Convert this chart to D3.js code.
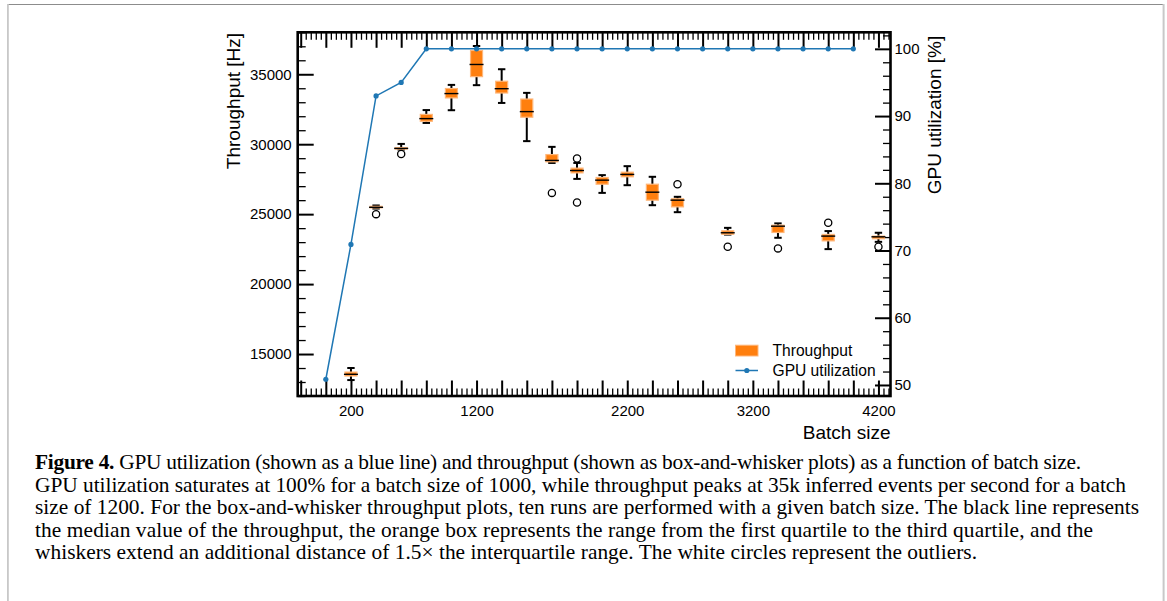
<!DOCTYPE html>
<html>
<head>
<meta charset="utf-8">
<script src="https://cdn.jsdelivr.net/npm/d3@7"></script>
<style>
body { margin: 0; background: #fff; }
svg text { font-family: "Liberation Sans", Arial, Helvetica, sans-serif; fill: #000; }
svg text.caption { font-family: "Liberation Serif", "Times New Roman", serif; }
</style>
</head>
<body>
<div id="viz"></div>
<script>

// x positions are slot indices, one slot per major tick on the batch size axis
var gpuPos  = [0, 1, 2, 3, 4, 5, 6, 7, 8, 9, 10, 11, 12, 13, 14, 15, 16, 17, 18, 19, 20, 21];
var gpuUtil = [50.85, 70.9, 93.0, 95.0, 100, 100, 100, 100, 100, 100, 100, 100, 100, 100, 100, 100, 100, 100, 100, 100, 100, 100];

// box-and-whisker throughput (Hz)
var boxPos  = [1, 2, 3, 4, 5, 6, 7, 8, 9, 10, 11, 12, 13, 14, 16, 18, 20, 22];
var whiskLo = [13140, 25400, 29620, 31520, 32430, 34220, 32950, 30220, 28660, 27520, 26520, 27070, 25640, 25140, 23540, 23310, 22500, 23020];
var q1      = [13430, 25450, 29650, 31640, 33310, 34830, 33660, 31930, 28740, 27950, 27140, 27670, 26000, 25520, 23560, 23690, 23090, 23240];
var median  = [13550, 25490, 29700, 31830, 33620, 35700, 33970, 32330, 28840, 28120, 27430, 27840, 26570, 26000, 23670, 24140, 23430, 23380];
var q3      = [13710, 25560, 29760, 32130, 33980, 36700, 34500, 33230, 29260, 28290, 27620, 28000, 27140, 26100, 23810, 24210, 23550, 23430];
var whiskHi = [14000, 25620, 30020, 32440, 34240, 37020, 35360, 33670, 29810, 28660, 27790, 28430, 27670, 26240, 24020, 24340, 23790, 23670];

var outlierPos = [2, 3, 9, 10, 10, 14, 16, 18, 20, 22];
var outlierVal = [25000, 29300, 26520, 28980, 25830, 27140, 22670, 22550, 24380, 22670];

var xTickPos    = [1, 6, 12, 17, 22];
var xTickLabels = ["200", "1200", "2200", "3200", "4200"];
var yLeftTicks  = [15000, 20000, 25000, 30000, 35000];
var yRightTicks = [50, 60, 70, 80, 90, 100];

var captionLines = [
  " GPU utilization (shown as a blue line) and throughput (shown as box-and-whisker plots) as a function of batch size.",
  "GPU utilization saturates at 100% for a batch size of 1000, while throughput peaks at 35k inferred events per second for a batch",
  "size of 1200. For the box-and-whisker throughput plots, ten runs are performed with a given batch size. The black line represents",
  "the median value of the throughput, the orange box represents the range from the first quartile to the third quartile, and the",
  "whiskers extend an additional distance of 1.5\u00d7 the interquartile range. The white circles represent the outliers."
];

var width = 1167,
    height = 601;

// plot area edges (note: "top" is taken by window.top)
var pL = 297.7, pR = 890.5, pT = 32.3, pB = 396;

var blue = "#1f77b4",
    orange = "#ff7f0e";

var svg = d3.select("#viz")
    .append("svg")
    .attr("width", width)
    .attr("height", height);

// figure frame
svg.append("line").attr("x1", 7).attr("x2", 1164).attr("y1", 4.5).attr("y2", 4.5)
    .attr("stroke", "#8c8c8c").attr("stroke-width", 1);
svg.append("rect").attr("x", 7).attr("y", 4).attr("width", 1.8).attr("height", height - 4).attr("fill", "#c8c8c8");
svg.append("rect").attr("x", 1162.6).attr("y", 4).attr("width", 2).attr("height", height - 4).attr("fill", "#c8c8c8");

var x = d3.scaleLinear().domain([-1.12, 22.48]).range([pL, pR]);
var yL = d3.scaleLinear().domain([12000, 38000]).range([pB, pT]);
var yR = d3.scaleLinear().domain([48.36, 102.46]).range([pB, pT]);

// ****************** Axes ***************************
var xMinor = d3.range(-5, 113).filter(function(i) { return i % 5 != 0; }).map(function(i) { return i / 5; });
var xMajor = d3.range(-1, 23);
var yLMinor = d3.range(12000, 38001, 1000).filter(function(v) { return v % 5000 != 0; });
var yRMinor = d3.range(48, 103, 2).filter(function(v) { return v % 10 != 0 && v > 48.36; });

function styleAxis(g, w) {
  g.select(".domain").remove();
  g.selectAll(".tick line").attr("stroke", "#000").attr("stroke-width", w);
  g.selectAll(".tick text").style("font-size", "15px");
}

// bottom
svg.append("g").attr("transform", "translate(0," + pB + ")")
    .call(d3.axisBottom(x).tickValues(xMinor).tickSize(-7.5).tickFormat(""))
    .call(styleAxis, 1.3);
svg.append("g").attr("transform", "translate(0," + pB + ")")
    .call(d3.axisBottom(x).tickValues(xMajor).tickSize(-15.5).tickFormat(""))
    .call(styleAxis, 2);
svg.append("g").attr("transform", "translate(0," + pB + ")")
    .call(d3.axisBottom(x).tickValues(xTickPos).tickSize(0).tickPadding(9.5)
      .tickFormat(function(d, i) { return xTickLabels[i]; }))
    .call(styleAxis, 0);

// top (mirrored ticks)
svg.append("g").attr("transform", "translate(0," + pT + ")")
    .call(d3.axisTop(x).tickValues(xMinor).tickSize(-7.5).tickFormat(""))
    .call(styleAxis, 1.3);
svg.append("g").attr("transform", "translate(0," + pT + ")")
    .call(d3.axisTop(x).tickValues(xMajor).tickSize(-15.5).tickFormat(""))
    .call(styleAxis, 2);

// left: throughput
svg.append("g").attr("transform", "translate(" + pL + ",0)")
    .call(d3.axisLeft(yL).tickValues(yLMinor).tickSize(-8).tickFormat(""))
    .call(styleAxis, 1.3);
svg.append("g").attr("transform", "translate(" + pL + ",0)")
    .call(d3.axisLeft(yL).tickValues(yLeftTicks).tickSize(-16).tickPadding(6).tickFormat(d3.format("d")))
    .call(styleAxis, 2);

// right: GPU utilization
svg.append("g").attr("transform", "translate(" + pR + ",0)")
    .call(d3.axisRight(yR).tickValues(yRMinor).tickSize(-7.5).tickFormat(""))
    .call(styleAxis, 1.3);
svg.append("g").attr("transform", "translate(" + pR + ",0)")
    .call(d3.axisRight(yR).tickValues(yRightTicks).tickSize(-15.5).tickPadding(4).tickFormat(d3.format("d")))
    .call(styleAxis, 2);

// plot frame
svg.append("rect")
    .attr("x", pL).attr("y", pT)
    .attr("width", pR - pL).attr("height", pB - pT)
    .attr("fill", "none").attr("stroke", "#000").attr("stroke-width", 2.6);

// ****************** Box section ***************************
var boxes = svg.append("g").selectAll("g")
    .data(boxPos)
    .enter().append("g");

boxes.append("line")                                           // whisker
    .attr("x1", function(d) { return x(d); })
    .attr("x2", function(d) { return x(d); })
    .attr("y1", function(d, i) { return yL(whiskLo[i]); })
    .attr("y2", function(d, i) { return yL(whiskHi[i]); })
    .attr("stroke", "#000").attr("stroke-width", 2);

boxes.append("line")                                           // low cap
    .attr("x1", function(d) { return x(d) - 3.7; })
    .attr("x2", function(d) { return x(d) + 3.7; })
    .attr("y1", function(d, i) { return yL(whiskLo[i]); })
    .attr("y2", function(d, i) { return yL(whiskLo[i]); })
    .attr("stroke", "#000").attr("stroke-width", 2);

boxes.append("line")                                           // high cap
    .attr("x1", function(d) { return x(d) - 3.7; })
    .attr("x2", function(d) { return x(d) + 3.7; })
    .attr("y1", function(d, i) { return yL(whiskHi[i]); })
    .attr("y2", function(d, i) { return yL(whiskHi[i]); })
    .attr("stroke", "#000").attr("stroke-width", 2);

boxes.append("rect")
    .attr("x", function(d) { return x(d) - 6; })
    .attr("width", 12)
    .attr("y", function(d, i) { return yL(q3[i]); })
    .attr("height", function(d, i) { return Math.max(yL(q1[i]) - yL(q3[i]), 1); })
    .attr("fill", orange)
    .attr("stroke", "#ffb77a").attr("stroke-width", 1.2);

boxes.append("line")                                           // median
    .attr("x1", function(d) { return x(d) - 7; })
    .attr("x2", function(d) { return x(d) + 7; })
    .attr("y1", function(d, i) { return yL(median[i]); })
    .attr("y2", function(d, i) { return yL(median[i]); })
    .attr("stroke", "#000").attr("stroke-width", 1.4);

svg.append("g").selectAll("circle")
    .data(outlierPos)
    .enter().append("circle")
    .attr("cx", function(d) { return x(d); })
    .attr("cy", function(d, i) { return yL(outlierVal[i]); })
    .attr("r", 3.6)
    .attr("fill", "#fff")
    .attr("stroke", "#000").attr("stroke-width", 1.3);

// ****************** GPU line ***************************
var line = d3.line()
    .x(function(d, i) { return x(gpuPos[i]); })
    .y(function(d) { return yR(d); });

svg.append("path")
    .datum(gpuUtil)
    .attr("d", line)
    .attr("fill", "none")
    .attr("stroke", blue).attr("stroke-width", 1.5);

svg.append("g").selectAll("circle")
    .data(gpuUtil)
    .enter().append("circle")
    .attr("cx", function(d, i) { return x(gpuPos[i]); })
    .attr("cy", function(d) { return yR(d); })
    .attr("r", 2.6)
    .attr("fill", blue);

// ****************** Labels ***************************
svg.append("text")
    .attr("transform", "translate(240,101) rotate(-90)")
    .attr("text-anchor", "middle")
    .style("font-size", "19px")
    .text("Throughput [Hz]");

svg.append("text")
    .attr("transform", "translate(941,115) rotate(-90)")
    .attr("text-anchor", "middle")
    .style("font-size", "19px")
    .text("GPU utilization [%]");

svg.append("text")
    .attr("x", pR).attr("y", 439)
    .attr("text-anchor", "end")
    .style("font-size", "19px")
    .text("Batch size");

// legend
var lg = svg.append("g");
lg.append("rect").attr("x", 735.5).attr("y", 345.2).attr("width", 22.5).attr("height", 10.8)
    .attr("fill", orange).attr("stroke", "#ffb77a").attr("stroke-width", 1);
lg.append("text").attr("x", 772.5).attr("y", 356.3).style("font-size", "15.6px").text("Throughput");
lg.append("line").attr("x1", 735.5).attr("x2", 758).attr("y1", 370.5).attr("y2", 370.5)
    .attr("stroke", blue).attr("stroke-width", 1.5);
lg.append("circle").attr("cx", 746.8).attr("cy", 370.5).attr("r", 2.6).attr("fill", blue);
lg.append("text").attr("x", 772.5).attr("y", 375.8).style("font-size", "15.6px").text("GPU utilization");

// ****************** Caption ***************************
var capLeft = 35,
    capEnds = [1081, 1126, 1139, 1093, 977];                   // right end of each caption line

var cap = svg.append("g");
captionLines.forEach(function(t, i) {
  var tx = cap.append("text")
      .attr("class", "caption")
      .attr("x", capLeft)
      .attr("y", 469 + i * 22.6)
      .style("font-size", "18px");
  if (i == 0) tx.append("tspan").style("font-weight", "bold").text("Figure 4.");
  tx.append("tspan").text(t);
});

// fit caption size to the longest line, then even out the others by spacing
var longest = cap.selectAll("text").nodes()[2];
var fs = 18 * (capEnds[2] - capLeft) / longest.getComputedTextLength();
cap.selectAll("text")
    .style("font-size", fs + "px")
    .attr("textLength", function(d, i) { return capEnds[i] - capLeft; })
    .attr("lengthAdjust", "spacing");

</script>
</body>
</html>
